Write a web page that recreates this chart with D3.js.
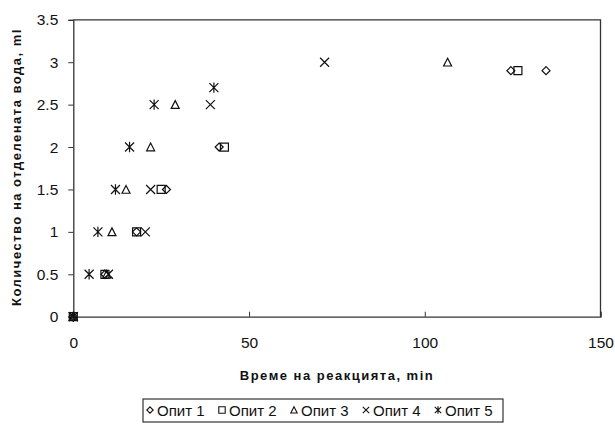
<!DOCTYPE html>
<html>
<head>
<meta charset="utf-8">
<title>Количество на отделената вода</title>
<style>
  body { margin: 0; background: #fff; }
  svg { display: block; font-family: "Liberation Sans", Arial, sans-serif; }
</style>
</head>
<body>
<svg></svg>
<script src="https://d3js.org/d3.v7.min.js"></script>
<script>
// data (time, min / volume, ml)
const seriesNames = ["Опит 1", "Опит 2", "Опит 3", "Опит 4", "Опит 5"];
const opit1 = [[0, 0], [9, 0.5], [18, 1], [26.5, 1.5], [41.5, 2], [124.5, 2.9], [134.5, 2.9]];
const opit2 = [[0, 0], [9, 0.5], [18, 1], [25, 1.5], [43, 2], [126.5, 2.9]];
const opit3 = [[0, 0], [9.5, 0.5], [11, 1], [15, 1.5], [22, 2], [29, 2.5], [106.5, 3]];
const opit4 = [[0, 0], [10, 0.5], [20.5, 1], [22, 1.5], [39, 2.5], [71.5, 3]];
const opit5 = [[0, 0], [4.5, 0.5], [7, 1], [12, 1.5], [16, 2], [23, 2.5], [40, 2.7]];
const allSeries = [opit1, opit2, opit3, opit4, opit5];
const xTicks = [0, 50, 100, 150];
const yTicks = [0, 0.5, 1, 1.5, 2, 2.5, 3, 3.5];

let width = 615, height = 428;
let svg = d3.select("svg").attr("width", width).attr("height", height);

let x = d3.scaleLinear().domain([0, 150]).range([73.3, 600.5]);
let y = d3.scaleLinear().domain([0, 3.5]).range([316.7, 19.8]);

// marker shapes, s = half size
function marker(i, s) {
  if (i == 0) return `M0,${-s}L${s},0L0,${s}L${-s},0Z`;
  if (i == 1) return `M${-s},${-s}H${s}V${s}H${-s}Z`;
  if (i == 2) return `M0,${-s}L${s},${s * 0.95}H${-s}Z`;
  if (i == 3) return `M${-s},${-s}L${s},${s}M${s},${-s}L${-s},${s}`;
  return `M${-s},${-s}L${s},${s}M${s},${-s}L${-s},${s}M0,${-s * 1.15}V${s * 1.15}`;
}

// frame (top and right)
svg.append("path")
  .attr("d", `M${x(0)},${y(3.5)}H${x(150)}V${y(0)}`)
  .attr("fill", "none").attr("stroke", "#333").attr("stroke-width", 1.3);

// y axis
let yAxis = svg.append("g")
  .attr("transform", `translate(${x(0)},0)`)
  .call(d3.axisLeft(y).tickValues(yTicks).tickSize(5).tickPadding(10).tickFormat(d3.format("")));
yAxis.select(".domain").attr("stroke", "#333").attr("stroke-width", 1.3);
yAxis.selectAll(".tick line").attr("stroke", "#333");
yAxis.selectAll("text").attr("font-size", 15.5).attr("fill", "#111")
  .attr("font-family", "Liberation Sans, Arial, sans-serif");

// x axis, ticks pointing inward
let xAxis = svg.append("g")
  .attr("transform", `translate(0,${y(0)})`)
  .call(d3.axisBottom(x).tickValues(xTicks).tickSize(-5).tickPadding(20).tickFormat(d3.format("")));
xAxis.select(".domain").attr("stroke", "#333").attr("stroke-width", 1.3);
xAxis.selectAll(".tick line").attr("stroke", "#333");
xAxis.selectAll("text").attr("font-size", 15.5).attr("fill", "#111")
  .attr("font-family", "Liberation Sans, Arial, sans-serif");

// points
allSeries.forEach((data, i) => {
  svg.append("g")
    .selectAll("path")
    .data(data)
    .enter()
    .append("path")
    .attr("transform", d => `translate(${x(d[0])},${y(d[1])})`)
    .attr("d", marker(i, i >= 3 ? 4.5 : 4))
    .attr("fill", "none")
    .attr("stroke", "#111")
    .attr("stroke-width", 1.2);
});

// axis titles
svg.append("text")
  .attr("x", 337).attr("y", 380)
  .attr("text-anchor", "middle")
  .attr("font-size", 13).attr("font-weight", "bold").attr("letter-spacing", 1.5)
  .attr("fill", "#111")
  .text("Време на реакцията, min");

svg.append("text")
  .attr("transform", "translate(21,167) rotate(-90)")
  .attr("text-anchor", "middle")
  .attr("font-size", 13).attr("font-weight", "bold").attr("letter-spacing", 1.5)
  .attr("fill", "#111")
  .text("Количество на отделената вода, ml");

// legend
let legend = svg.append("g");
let box = legend.append("rect")
  .attr("fill", "#fff").attr("stroke", "#333").attr("stroke-width", 1.2);
let lx = 150, ly = 410;
seriesNames.forEach((name, i) => {
  legend.append("path")
    .attr("transform", `translate(${lx},${ly})`)
    .attr("d", marker(i, 3.2))
    .attr("fill", "none").attr("stroke", "#111").attr("stroke-width", 1.1);
  legend.append("text")
    .attr("x", lx + 7).attr("y", ly + 5.5)
    .attr("font-size", 15).attr("fill", "#111")
    .text(name);
  lx += 72;
});
box.attr("x", 143).attr("y", 399).attr("width", 360).attr("height", 23);
</script>
</body>
</html>
